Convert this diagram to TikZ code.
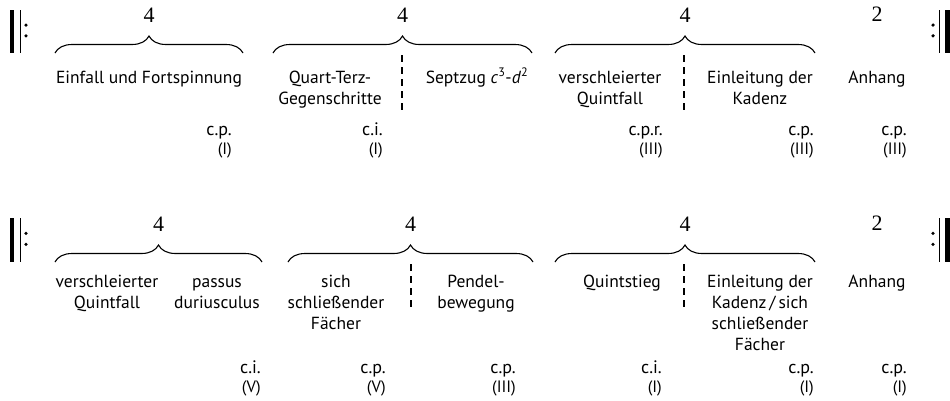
\documentclass[tikz,border=0pt]{standalone}
\usepackage{fontspec}
\setmainfont{PT Sans}
\newfontfamily\numfont{Liberation Serif}
\usetikzlibrary{decorations.pathreplacing}
\begin{document}
\begin{tikzpicture}[x=1pt,y=-1pt,
  txt/.style={font=\fontsize{17.5}{21}\selectfont, align=center, inner sep=0pt, anchor=base},
  num/.style={font=\numfont\fontsize{22}{24}\selectfont, inner sep=0pt, anchor=base},
  cpl/.style={font=\fontsize{18}{20}\selectfont, inner sep=0pt, anchor=base east},
  rom/.style={font=\fontsize{16.5}{18}\selectfont, inner sep=0pt, anchor=base east},
  brc/.style={decorate, decoration={brace, amplitude=17pt}, line width=1.1pt},
  dsh/.style={line width=1.8pt, dash pattern=on 7pt off 5pt},
]
\useasboundingbox (0,0) rectangle (950,400);

% repeat signs
\foreach \yt/\yb in {10/53, 218/262}{
  \fill (9.5,\yt) rectangle (14,\yb);
  \fill (19.5,\yt) rectangle (20.6,\yb);
  \fill (26,{\yt+(\yb-\yt)*0.35}) circle (1.8);
  \fill (26,{\yt+(\yb-\yt)*0.6}) circle (1.8);
  \fill (945,\yt) rectangle (950,\yb);
  \fill (938.5,\yt) rectangle (939.6,\yb);
  \fill (933,{\yt+(\yb-\yt)*0.35}) circle (1.8);
  \fill (933,{\yt+(\yb-\yt)*0.6}) circle (1.8);
}

% ---------- row 1 ----------
\coordinate (b1l) at (55,53);  \coordinate (b1r) at (243,53);
\coordinate (b2l) at (273,53); \coordinate (b2r) at (532,53);
\coordinate (b3l) at (555,53); \coordinate (b3r) at (815,53);
\draw[brc] (b1l) -- (b1r);
\draw[brc] (b2l) -- (b2r);
\draw[brc] (b3l) -- (b3r);
\node[num] (n1) at (149,22) {4};
\node[num] (n2) at (402.5,22) {4};
\node[num] (n3) at (685,22) {4};
\node[num] (n4) at (877,21) {2};
\coordinate (d1t) at (402,55); \coordinate (d1b) at (402,112);
\coordinate (d2t) at (684,55); \coordinate (d2b) at (684,112);
\draw[dsh] (d1t) -- (d1b);
\draw[dsh] (d2t) -- (d2b);

% multi-line nodes: base anchor = baseline of last line
\node[txt] (t1) at (149,83) {Einfall und Fortspinnung};
\node[txt] (t2) at (330,104) {Quart-Terz-\\Gegenschritte};
\node[txt] (t3) at (477,83) {Septzug \textit{c}\textsuperscript{3}-\textit{d}\textsuperscript{2}};
\node[txt] (t4) at (610,104) {verschleierter\\Quintfall};
\node[txt] (t5) at (760,104) {Einleitung der\\Kadenz};
\node[txt] (t6) at (877,83) {Anhang};

\node[cpl] (c1) at (232,135) {c.p.};  \node[rom] (r1) at (232,154) {(I)};
\node[cpl] (c2) at (383,135) {c.i.};  \node[rom] (r2) at (383,154) {(I)};
\node[cpl] (c3) at (663,135) {c.p.r.};\node[rom] (r3) at (663,154) {(III)};
\node[cpl] (c4) at (814,135) {c.p.};  \node[rom] (r4) at (814,154) {(III)};
\node[cpl] (c5) at (907,135) {c.p.};  \node[rom] (r5) at (907,154) {(III)};

% ---------- row 2 ----------
\coordinate (b4l) at (55,262);  \coordinate (b4r) at (262,262);
\coordinate (b5l) at (288,262); \coordinate (b5r) at (533,262);
\coordinate (b6l) at (555,262); \coordinate (b6r) at (815,262);
\draw[brc] (b4l) -- (b4r);
\draw[brc] (b5l) -- (b5r);
\draw[brc] (b6l) -- (b6r);
\node[num] (m1) at (158.5,231) {4};
\node[num] (m2) at (410.5,231) {4};
\node[num] (m3) at (685,231) {4};
\node[num] (m4) at (877,230) {2};
\coordinate (d3t) at (411,264); \coordinate (d3b) at (411,308);
\coordinate (d4t) at (684,264); \coordinate (d4b) at (684,308);
\draw[dsh] (d3t) -- (d3b);
\draw[dsh] (d4t) -- (d4b);

\node[txt] (u1) at (107,308) {verschleierter\\Quintfall};
\node[txt] (u2) at (217,308) {passus\\duriusculus};
\node[txt] (u3) at (336,329) {sich\\schließender\\Fächer};
\node[txt] (u4) at (476,308) {Pendel-\\bewegung};
\node[txt] (u5) at (622,287) {Quintstieg};
\node[txt] (u6) at (760,350) {Einleitung der\\Kadenz\,/\,sich\\schließender\\Fächer};
\node[txt] (u7) at (877,287) {Anhang};

\node[cpl] (e1) at (261,373) {c.i.};  \node[rom] (s1) at (261,392) {(V)};
\node[cpl] (e2) at (386,373) {c.p.};  \node[rom] (s2) at (386,392) {(V)};
\node[cpl] (e3) at (516,373) {c.p.};  \node[rom] (s3) at (516,392) {(III)};
\node[cpl] (e4) at (662,373) {c.i.};  \node[rom] (s4) at (662,392) {(I)};
\node[cpl] (e5) at (814,373) {c.p.};  \node[rom] (s5) at (814,392) {(I)};
\node[cpl] (e6) at (907,373) {c.p.};  \node[rom] (s6) at (907,392) {(I)};
\end{tikzpicture}
\end{document}
